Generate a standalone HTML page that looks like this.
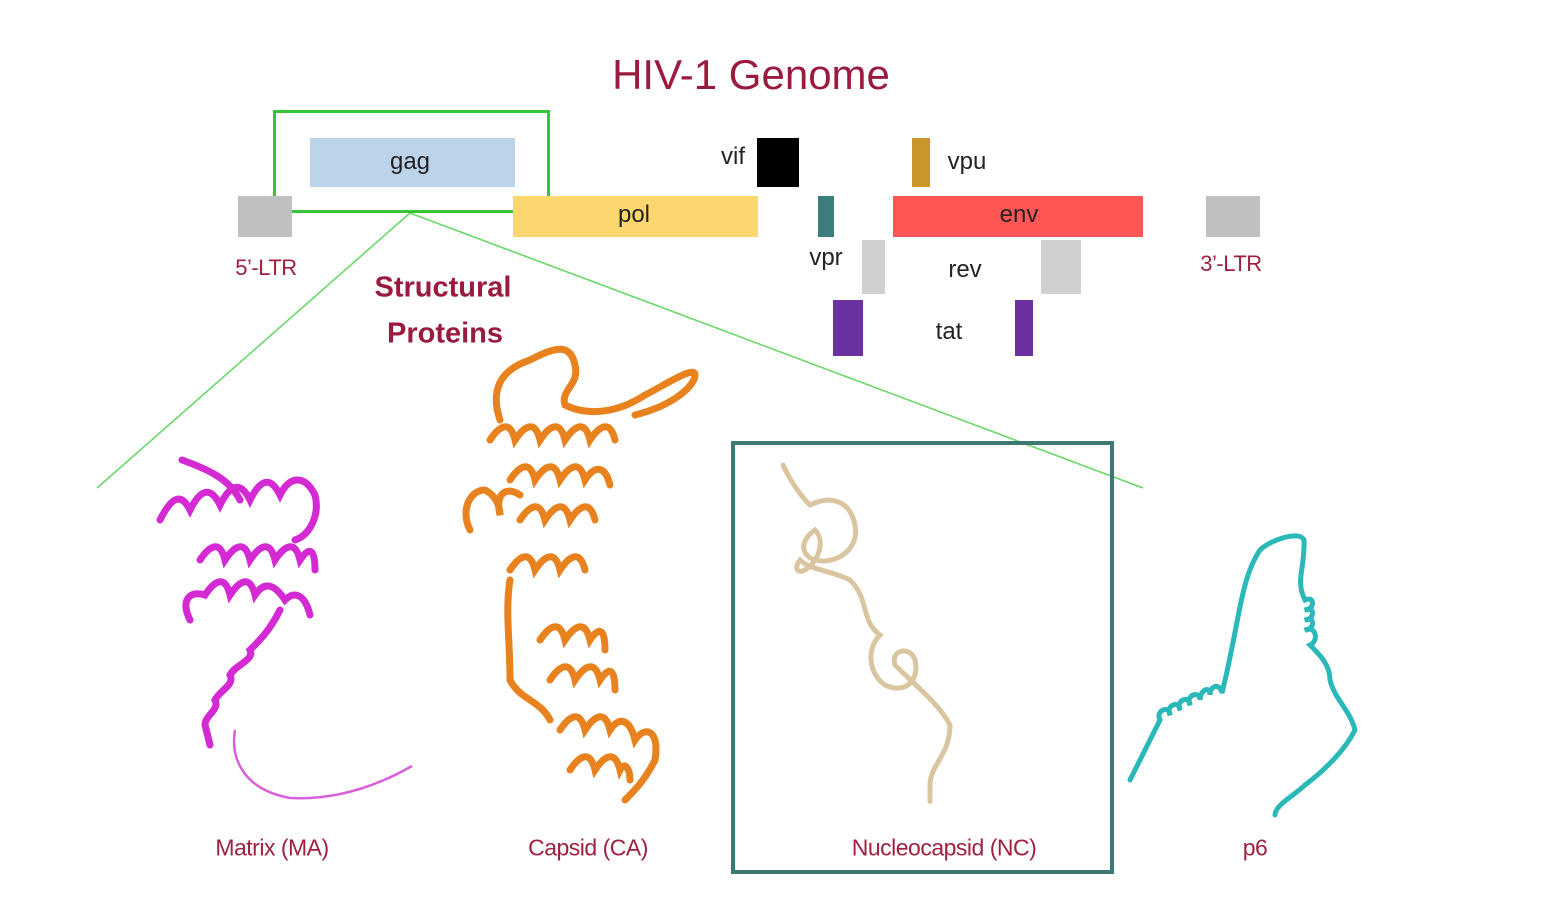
<!DOCTYPE html>
<html><head><meta charset="utf-8">
<style>
html,body{margin:0;padding:0;background:#fff;}
body{width:1546px;height:898px;position:relative;overflow:hidden;font-family:"Liberation Sans",sans-serif;}
.b{position:absolute;}
.t{position:absolute;transform:translate(-50%,-50%);white-space:nowrap;}
.lab{color:#a0203f;font-size:23px;letter-spacing:-0.5px;}
.g{color:#222;font-size:24px;}
</style></head><body>
<svg class="b" style="left:0;top:0" width="1546" height="898">
<line x1="410" y1="213" x2="97" y2="488" stroke="#6ad86a" stroke-width="1.6"/>
<line x1="410" y1="213" x2="1143" y2="488" stroke="#6ad86a" stroke-width="1.6"/>
<g fill="none" stroke="#d42ad4" stroke-width="7" stroke-linecap="round">
<path d="M182 460 C210 470 230 480 240 500 M160 520 c10 -20 20 -30 30 -10 c10 -20 20 -25 30 -5 c10 -20 20 -25 30 -5 c10 -20 20 -25 30 -5 c10 -20 25 -20 35 0 c5 20 -5 40 -20 45"/>
<path d="M200 560 c10 -15 20 -20 25 0 c10 -15 20 -20 25 0 c10 -15 20 -20 25 0 c10 -15 20 -20 25 0 c10 -15 15 -10 15 10"/>
<path d="M190 620 c-10 -20 0 -30 15 -25 c10 -15 20 -20 25 0 c10 -15 20 -20 25 0 c10 -15 20 -10 30 5 c10 -10 20 -5 25 15"/>
<path d="M280 610 c-10 20 -20 30 -30 40 c5 10 -15 15 -20 25 c5 10 -10 15 -15 25 c5 10 -10 15 -10 25 l5 20"/>
</g>
<path d="M235 730 C230 760 245 790 290 798 C330 800 370 790 412 766" fill="none" stroke="#d860d8" stroke-width="2.5"/>
<g fill="none" stroke="#e8821e" stroke-width="7" stroke-linecap="round">
<path d="M500 420 c-10 -30 0 -50 30 -60 c20 -10 40 -20 45 5 c5 20 -15 25 -10 40 c20 10 50 10 80 -10 c20 -10 50 -30 50 -20 c0 10 -20 30 -60 40"/>
<path d="M490 440 c10 -15 20 -20 25 0 c10 -15 20 -20 25 0 c10 -15 20 -20 25 0 c10 -15 20 -20 25 0 c10 -15 20 -20 25 0"/>
<path d="M470 530 c-10 -20 0 -40 15 -40 c10 5 15 15 15 25 c-5 -20 5 -30 20 -20"/>
<path d="M510 480 c10 -15 20 -20 25 0 c10 -15 20 -20 25 0 c10 -15 20 -20 25 0 c10 -15 20 -15 25 5"/>
<path d="M520 520 c10 -15 20 -20 25 0 c10 -15 20 -20 25 0 c10 -15 20 -20 25 0"/>
<path d="M510 570 c10 -15 20 -20 25 0 c10 -15 20 -20 25 0 c10 -15 20 -20 25 0"/>
<path d="M510 580 c-5 30 0 60 0 100 c10 20 30 20 40 40"/>
<path d="M540 640 c10 -15 20 -20 25 0 c10 -15 20 -20 25 0 c10 -15 15 -10 15 10"/>
<path d="M550 680 c10 -15 20 -20 25 0 c10 -15 20 -20 25 0 c10 -15 15 -10 15 10"/>
<path d="M560 730 c10 -15 20 -20 25 0 c10 -15 20 -20 25 0 c10 -15 20 -10 25 10 c10 -15 25 -10 20 20 c-10 20 -20 30 -30 40"/>
<path d="M570 770 c10 -15 20 -20 25 0 c10 -15 20 -20 25 0 c5 -10 10 0 10 10"/>
</g>
<rect x="733" y="443" width="379" height="429" fill="none" stroke="#3d7873" stroke-width="4"/>
<g fill="none" stroke="#d9c6a0" stroke-width="5" stroke-linecap="round">
<path d="M783 465 C790 480 800 495 810 505 c20 -10 40 -5 45 20 c5 25 -20 40 -40 35 c-15 -5 -15 -20 0 -30 c10 10 5 30 -10 40 c-10 5 -10 -5 -5 -10 c10 10 30 10 50 20 c20 20 10 40 30 55 c-15 15 -10 40 5 50 c20 10 35 -5 30 -25 c-5 -15 -25 -10 -20 5 c20 20 45 40 55 60 c0 30 -20 40 -20 60 c0 10 0 20 0 15"/>
</g>
<g fill="none" stroke="#2ab8b8" stroke-width="5" stroke-linecap="round">
<path d="M1130 780 C1140 760 1150 740 1160 720 c-5 -10 10 -15 10 -5 c-5 -10 10 -15 10 -5 c-5 -10 10 -15 10 -5 c-5 -10 10 -15 10 -5 c0 -10 10 -15 10 -5 c0 -10 10 -12 12 -2 C1240 620 1240 580 1260 550 C1270 540 1300 530 1304 540 C1305 570 1295 580 1305 600 c10 -5 10 10 0 10 c10 -5 10 10 0 10 c10 -5 10 10 0 10 c10 -5 15 10 5 15 c10 10 20 20 20 35 c5 20 20 30 25 50 c-10 20 -30 40 -50 55 c-10 10 -30 20 -30 30"/>
</g>
</svg>
<div class="b" style="left:273px;top:110px;width:271px;height:97px;border:3px solid #35c535;"></div>
<div class="b" style="left:310px;top:138px;width:205px;height:49px;background:#bcd4ea"></div>
<div class="b" style="left:757px;top:138px;width:42px;height:49px;background:#000"></div>
<div class="b" style="left:912px;top:138px;width:18px;height:49px;background:#c8962a"></div>
<div class="b" style="left:238px;top:196px;width:54px;height:41px;background:#c0c0c0"></div>
<div class="b" style="left:513px;top:196px;width:245px;height:41px;background:#fcd770"></div>
<div class="b" style="left:818px;top:196px;width:16px;height:41px;background:#3a7f7c"></div>
<div class="b" style="left:893px;top:196px;width:250px;height:41px;background:#fe5555"></div>
<div class="b" style="left:1206px;top:196px;width:54px;height:41px;background:#c0c0c0"></div>
<div class="b" style="left:862px;top:240px;width:23px;height:54px;background:#d0d0d0"></div>
<div class="b" style="left:1041px;top:240px;width:40px;height:54px;background:#d0d0d0"></div>
<div class="b" style="left:833px;top:300px;width:30px;height:56px;background:#6a30a0"></div>
<div class="b" style="left:1015px;top:300px;width:18px;height:56px;background:#6a30a0"></div>

<div class="t" style="left:751px;top:75px;font-size:42px;color:#9b1b3f;">HIV-1 Genome</div>
<div class="t g" style="left:410px;top:162px;">gag</div>
<div class="t g" style="left:733px;top:157px;">vif</div>
<div class="t g" style="left:967px;top:162px;">vpu</div>
<div class="t g" style="left:634px;top:215px;">pol</div>
<div class="t g" style="left:1019px;top:215px;">env</div>
<div class="t g" style="left:826px;top:258px;">vpr</div>
<div class="t g" style="left:965px;top:270px;">rev</div>
<div class="t g" style="left:949px;top:332px;">tat</div>
<div class="t lab" style="left:266px;top:268px;font-size:22px;">5’-LTR</div>
<div class="t lab" style="left:1231px;top:264px;font-size:22px;">3’-LTR</div>
<div class="t" style="left:443px;top:288px;font-size:29px;font-weight:bold;color:#9b1b3f;">Structural</div>
<div class="t" style="left:445px;top:334px;font-size:29px;font-weight:bold;color:#9b1b3f;">Proteins</div>
<div class="t lab" style="left:272px;top:848px;">Matrix (MA)</div>
<div class="t lab" style="left:588px;top:848px;">Capsid (CA)</div>
<div class="t lab" style="left:944px;top:848px;">Nucleocapsid (NC)</div>
<div class="t lab" style="left:1255px;top:848px;">p6</div>
</body></html>
